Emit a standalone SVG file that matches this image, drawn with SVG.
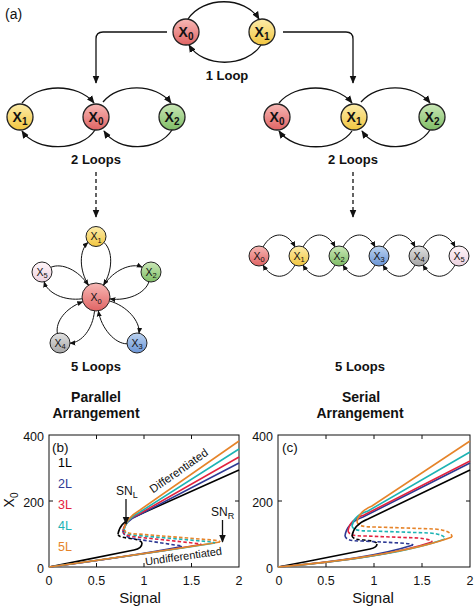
<svg xmlns="http://www.w3.org/2000/svg" width="474" height="608" viewBox="0 0 474 608">
<defs>
  <linearGradient id="gR" x1="0" y1="0" x2="0" y2="1"><stop offset="0" stop-color="#f7b8b5"/><stop offset="1" stop-color="#e06464"/></linearGradient>
  <linearGradient id="gY" x1="0" y1="0" x2="0" y2="1"><stop offset="0" stop-color="#fcecaa"/><stop offset="1" stop-color="#f2c640"/></linearGradient>
  <linearGradient id="gG" x1="0" y1="0" x2="0" y2="1"><stop offset="0" stop-color="#cbe8b8"/><stop offset="1" stop-color="#7fbd66"/></linearGradient>
  <linearGradient id="gB" x1="0" y1="0" x2="0" y2="1"><stop offset="0" stop-color="#bcd3f0"/><stop offset="1" stop-color="#6b95d6"/></linearGradient>
  <linearGradient id="gK" x1="0" y1="0" x2="0" y2="1"><stop offset="0" stop-color="#e2e2e2"/><stop offset="1" stop-color="#a6a6a6"/></linearGradient>
  <linearGradient id="gP" x1="0" y1="0" x2="0" y2="1"><stop offset="0" stop-color="#fff5f9"/><stop offset="1" stop-color="#ecd2df"/></linearGradient>
  <marker id="ah" viewBox="0 0 10 10" refX="9" refY="5" markerWidth="8" markerHeight="8" markerUnits="userSpaceOnUse" orient="auto"><path d="M0,0.8 L10,5 L0,9.2 Z" fill="#111"/></marker>
  <marker id="ahs" viewBox="0 0 10 10" refX="9" refY="5" markerWidth="6" markerHeight="6" markerUnits="userSpaceOnUse" orient="auto"><path d="M0,0.8 L10,5 L0,9.2 Z" fill="#111"/></marker>
</defs>
<style>
  .t{font-family:"Liberation Sans",Arial,sans-serif;fill:#111}
  .nb{font-weight:bold;font-size:14px;text-anchor:middle}
  .ns{font-size:10.5px;text-anchor:middle}
  .cap{font-weight:bold;font-size:13px;text-anchor:middle}
  .arr{font-weight:bold;font-size:14px;text-anchor:middle}
  .tick{font-size:12.5px}
  .ax{font-size:15px;text-anchor:middle}
  .big circle{stroke:#222;stroke-width:1.3}
  .sm circle{stroke:#222;stroke-width:1}
  .c{fill:none;stroke:#111;stroke-width:1.3}
  .cs{fill:none;stroke:#111;stroke-width:1}
  .frame{fill:none;stroke:#111;stroke-width:1}
  .pl{fill:none;stroke-width:1.6}
  .d{stroke-dasharray:3.5 2.2}
  .k{stroke:#000}.b{stroke:#2e3a94}.r{stroke:#e3223e}.cy{stroke:#1cb3b4}.o{stroke:#e6842a}
</style>

<text class="t" x="5" y="19" font-size="14">(a)</text>

<!-- connectors -->
<g id="connectors">
  <path class="c" d="M188,19 C203,-4 245,-4 259,19" marker-end="url(#ah)"/>
  <path class="c" d="M261,45 C246,68 203,68 189,45" marker-end="url(#ah)"/>
  <path class="c" d="M167,32 H103 Q96,32 96,39 V83" marker-end="url(#ah)"/>
  <path class="c" d="M283,32 H346 Q353,32 353,39 V83" marker-end="url(#ah)"/>
  <path class="c" d="M22,103 C38,83 78,83 94,103" marker-end="url(#ah)"/>
  <path class="c" d="M103,102 C118,83 156,83 171,103" marker-end="url(#ah)"/>
  <path class="c" d="M95,130 C81,152 36,152 22,131" marker-end="url(#ah)"/>
  <path class="c" d="M172,130 C158,152 118,152 104,131" marker-end="url(#ah)"/>
  <path class="c" d="M279,103 C295,83 336,83 352,103" marker-end="url(#ah)"/>
  <path class="c" d="M361,102 C377,83 414,83 430,103" marker-end="url(#ah)"/>
  <path class="c" d="M352,131 C338,152 294,152 279,131" marker-end="url(#ah)"/>
  <path class="c" d="M430,130 C416,152 376,152 362,131" marker-end="url(#ah)"/>
  <path class="c" d="M96,172 V217" stroke-dasharray="4 3" marker-end="url(#ah)"/>
  <path class="c" d="M353,172 V217" stroke-dasharray="4 3" marker-end="url(#ah)"/>
  <path class="cs" d="M88.5,285 C79,270 79,250.5 88,242.5" marker-end="url(#ahs)"/>
  <path class="cs" d="M104,242.5 C113,250.5 113,270 103.5,285" marker-end="url(#ahs)"/>
  <path class="cs" d="M103.8,285.2 C113.5,270.3 131.2,262.3 142.2,267.2" marker-end="url(#ahs)"/>
  <path class="cs" d="M148.9,281.8 C145.3,293.3 127.6,301.3 110,298.9" marker-end="url(#ahs)"/>
  <path class="cs" d="M109.6,301 C126.7,305.8 140.4,321.2 139,333.2" marker-end="url(#ahs)"/>
  <path class="cs" d="M127,343.8 C115,343.9 101.3,328.5 98.4,311" marker-end="url(#ahs)"/>
  <path class="cs" d="M94.5,311.1 C92.7,328.8 82,342.5 70,343.2" marker-end="url(#ahs)"/>
  <path class="cs" d="M57.4,333.4 C55.2,321.5 66,307.8 82.7,301.8" marker-end="url(#ahs)"/>
  <path class="cs" d="M82,298.8 C64.4,301.1 47.6,293.3 44.1,281.8" marker-end="url(#ahs)"/>
  <path class="cs" d="M50.8,267.3 C61.9,262.5 78.6,270.2 88.3,285.2" marker-end="url(#ahs)"/>
  <path class="cs" d="M263,247 C272,231 287,231 295,247" marker-end="url(#ahs)"/>
  <path class="cs" d="M295,265 C287,280 272,280 263,265" marker-end="url(#ahs)"/>
  <path class="cs" d="M303,247 C312,231 327,231 335,247" marker-end="url(#ahs)"/>
  <path class="cs" d="M335,265 C327,280 312,280 303,265" marker-end="url(#ahs)"/>
  <path class="cs" d="M343,247 C352,231 367,231 375,247" marker-end="url(#ahs)"/>
  <path class="cs" d="M375,265 C367,280 352,280 343,265" marker-end="url(#ahs)"/>
  <path class="cs" d="M383,247 C392,231 407,231 415,247" marker-end="url(#ahs)"/>
  <path class="cs" d="M415,265 C407,280 392,280 383,265" marker-end="url(#ahs)"/>
  <path class="cs" d="M423,247 C432,231 447,231 455,247" marker-end="url(#ahs)"/>
  <path class="cs" d="M455,265 C447,280 432,280 423,265" marker-end="url(#ahs)"/>
</g>

<g id="top-x0" class="big"><circle cx="186" cy="32" r="13" fill="url(#gR)"/><text class="t nb" x="186" y="37">X<tspan font-size="10" dy="3">0</tspan></text></g>
<g id="top-x1" class="big"><circle cx="262" cy="32" r="13" fill="url(#gY)"/><text class="t nb" x="262" y="37">X<tspan font-size="10" dy="3">1</tspan></text></g>
<text class="t cap" x="227" y="80">1 Loop</text>

<g id="l2-x1" class="big"><circle cx="20" cy="117" r="13" fill="url(#gY)"/><text class="t nb" x="20" y="122">X<tspan font-size="10" dy="3">1</tspan></text></g>
<g id="l2-x0" class="big"><circle cx="96" cy="117" r="13" fill="url(#gR)"/><text class="t nb" x="96" y="122">X<tspan font-size="10" dy="3">0</tspan></text></g>
<g id="l2-x2" class="big"><circle cx="172" cy="117" r="13" fill="url(#gG)"/><text class="t nb" x="172" y="122">X<tspan font-size="10" dy="3">2</tspan></text></g>
<text class="t cap" x="96" y="164">2 Loops</text>

<g id="r2-x0" class="big"><circle cx="277" cy="117" r="13" fill="url(#gR)"/><text class="t nb" x="277" y="122">X<tspan font-size="10" dy="3">0</tspan></text></g>
<g id="r2-x1" class="big"><circle cx="354" cy="117" r="13" fill="url(#gY)"/><text class="t nb" x="354" y="122">X<tspan font-size="10" dy="3">1</tspan></text></g>
<g id="r2-x2" class="big"><circle cx="432" cy="117" r="13" fill="url(#gG)"/><text class="t nb" x="432" y="122">X<tspan font-size="10" dy="3">2</tspan></text></g>
<text class="t cap" x="353" y="164">2 Loops</text>

<g id="p-x0" class="sm"><circle cx="96" cy="297" r="14" fill="url(#gR)"/><text class="t ns" x="96" y="301">X<tspan font-size="7.5" dy="2.5">0</tspan></text></g>
<g id="p-x1" class="sm"><circle cx="96" cy="236.5" r="10" fill="url(#gY)"/><text class="t ns" x="96" y="240">X<tspan font-size="7.5" dy="2.5">1</tspan></text></g>
<g id="p-x2" class="sm"><circle cx="151" cy="272" r="10" fill="url(#gG)"/><text class="t ns" x="151" y="275.5">X<tspan font-size="7.5" dy="2.5">2</tspan></text></g>
<g id="p-x3" class="sm"><circle cx="137" cy="343" r="10" fill="url(#gB)"/><text class="t ns" x="137" y="346.5">X<tspan font-size="7.5" dy="2.5">3</tspan></text></g>
<g id="p-x4" class="sm"><circle cx="60" cy="343" r="10" fill="url(#gK)"/><text class="t ns" x="60" y="346.5">X<tspan font-size="7.5" dy="2.5">4</tspan></text></g>
<g id="p-x5" class="sm"><circle cx="42" cy="272" r="10" fill="url(#gP)"/><text class="t ns" x="42" y="275.5">X<tspan font-size="7.5" dy="2.5">5</tspan></text></g>
<text class="t cap" x="96" y="371">5 Loops</text>
<text class="t arr" x="96" y="402">Parallel</text>
<text class="t arr" x="96" y="418">Arrangement</text>

<g id="s-x0" class="sm"><circle cx="259" cy="256" r="10" fill="url(#gR)"/><text class="t ns" x="259" y="259.5">X<tspan font-size="7.5" dy="2.5">0</tspan></text></g>
<g id="s-x1" class="sm"><circle cx="299" cy="256" r="10" fill="url(#gY)"/><text class="t ns" x="299" y="259.5">X<tspan font-size="7.5" dy="2.5">1</tspan></text></g>
<g id="s-x2" class="sm"><circle cx="339" cy="256" r="10" fill="url(#gG)"/><text class="t ns" x="339" y="259.5">X<tspan font-size="7.5" dy="2.5">2</tspan></text></g>
<g id="s-x3" class="sm"><circle cx="379" cy="256" r="10" fill="url(#gB)"/><text class="t ns" x="379" y="259.5">X<tspan font-size="7.5" dy="2.5">3</tspan></text></g>
<g id="s-x4" class="sm"><circle cx="419" cy="256" r="10" fill="url(#gK)"/><text class="t ns" x="419" y="259.5">X<tspan font-size="7.5" dy="2.5">4</tspan></text></g>
<g id="s-x5" class="sm"><circle cx="459" cy="256" r="10" fill="url(#gP)"/><text class="t ns" x="459" y="259.5">X<tspan font-size="7.5" dy="2.5">5</tspan></text></g>
<text class="t cap" x="360" y="371">5 Loops</text>
<text class="t arr" x="361" y="402">Serial</text>
<text class="t arr" x="360" y="418">Arrangement</text>

<g id="plot-b">
  <rect class="frame" x="49" y="435" width="190" height="132"/>
  <path stroke="#111" stroke-width="1" d="M96.5,435 v4 M144,435 v4 M191.5,435 v4 M96.5,567 v-4 M144,567 v-4 M191.5,567 v-4 M49,501 h4 M239,501 h-4"/>
  <g class="t tick" text-anchor="middle">
    <text x="49" y="585">0</text><text x="96.5" y="585">0.5</text><text x="144" y="585">1</text><text x="191.5" y="585">1.5</text><text x="239" y="585">2</text>
  </g>
  <g class="t tick" text-anchor="end">
    <text x="44" y="441">400</text><text x="44" y="507">200</text><text x="44" y="573">0</text>
  </g>
  <text class="t ax" x="140" y="603">Signal</text>
  <text class="t" font-size="14" text-anchor="middle" transform="translate(14,500) rotate(-90)">X<tspan font-size="10" dy="4">0</tspan></text>
  <path class="pl k" d="M49,567 C80,561 118,553 134,550 C140,549 142,546 142,543"/>
  <path class="pl b" d="M49,567 Q130,556.5 182,546.5"/>
  <path class="pl r" d="M49,567 Q140,555 201,544.5"/>
  <path class="pl cy" d="M49,567 Q148,553.5 215,543"/>
  <path class="pl o" d="M49,567 Q150,553 220,542"/>
  <path class="pl d k" d="M142,543 C141,540 135,539 127,538 C120,537 118,536 118,534"/>
  <path class="pl d b" d="M123,532 C124,536 129,538 136,539 L175,545 C179,545.5 182,546 182,546.5"/>
  <path class="pl d r" d="M123,531 C124,535 129,536.5 137,537 L193,543 C198,543.5 201,544 201,544.5"/>
  <path class="pl d cy" d="M124,530 C125,534 130,535 138,535.5 L207,541.5 C212,542 215,542.5 215,543"/>
  <path class="pl d o" d="M124,529 C125,533 130,534 138,534 L212,540 C217,540.5 220,541 220,542"/>
  <path class="pl k" d="M118,534 C119,527 124,521 134,517 L239,470"/>
  <path class="pl b" d="M123,532 C124,525 129,519 139,515 L239,463"/>
  <path class="pl r" d="M123,531 C124,524 129,518 139,514 L239,457"/>
  <path class="pl cy" d="M124,530 C125,523 130,517 140,512 L239,449"/>
  <path class="pl o" d="M124,529 C125,522 130,516 140,510 L239,441"/>
  <text class="t" x="52" y="452" font-size="13.5">(b)</text>
  <g class="t" font-size="12.5" text-anchor="end">
    <text x="72" y="467" fill="#000">1L</text>
    <text x="72" y="488" fill="#2e3a94">2L</text>
    <text x="72" y="509" fill="#e3223e">3L</text>
    <text x="72" y="530" fill="#1cb3b4">4L</text>
    <text x="72" y="551" fill="#e6842a">5L</text>
  </g>
  <text class="t" x="116" y="495" font-size="12">SN<tspan font-size="9" dy="3">L</tspan></text>
  <path class="c" d="M126,499 V524" marker-end="url(#ah)"/>
  <text class="t" x="211" y="516" font-size="12">SN<tspan font-size="9" dy="3">R</tspan></text>
  <path class="c" d="M222.5,520 V542" marker-end="url(#ah)"/>
  <text class="t" font-size="11.5" text-anchor="middle" transform="translate(181,474) rotate(-35)">Differentiated</text>
  <text class="t" font-size="11" text-anchor="middle" transform="translate(184,560) rotate(-8)">Undifferentiated</text>
</g>

<g id="plot-c">
  <rect class="frame" x="278" y="435" width="192" height="132"/>
  <path stroke="#111" stroke-width="1" d="M326,435 v4 M374,435 v4 M422,435 v4 M326,567 v-4 M374,567 v-4 M422,567 v-4 M278,501 h4 M470,501 h-4"/>
  <g class="t tick" text-anchor="middle">
    <text x="279" y="585">0</text><text x="326" y="585">0.5</text><text x="374" y="585">1</text><text x="422" y="585">1.5</text><text x="470" y="585">2</text>
  </g>
  <g class="t tick" text-anchor="end">
    <text x="273" y="441">400</text><text x="273" y="507">200</text><text x="273" y="573">0</text>
  </g>
  <text class="t ax" x="373" y="603">Signal</text>
  <path class="pl k" d="M278,567 C310,561 350,553 370,549 C375,548 377,546 377,544"/>
  <path class="pl b" d="M278,567 Q370,559 413,545"/>
  <path class="pl r" d="M278,567 Q385,558 432,542"/>
  <path class="pl cy" d="M278,567 Q395,557 445,539"/>
  <path class="pl o" d="M278,567 Q400,556 452,537"/>
  <path class="pl d k" d="M352,536 C353,539 358,540 364,540 L372,541 C376,542 377,543 377,544"/>
  <path class="pl d b" d="M345,536 C346,540 352,541 362,541 L400,543 C408,543.5 413,544 413,545"/>
  <path class="pl d r" d="M348,531 C349,535 355,536 365,536 L418,538 C427,539 432,540 432,542"/>
  <path class="pl d cy" d="M352,526 C353,530 359,531 370,531 L430,533 C440,534 445,536 445,539"/>
  <path class="pl d o" d="M357,522 C358,526 364,527 375,527 L435,529 C446,530 452,533 452,537"/>
  <path class="pl k" d="M352,536 C353,529 358,523 368,519 L470,470"/>
  <path class="pl b" d="M345,536 C346,528 352,521 363,517 L470,463"/>
  <path class="pl r" d="M348,531 C349,524 354,518 364,515 L470,461"/>
  <path class="pl cy" d="M352,526 C353,519 358,514 368,511 L470,452"/>
  <path class="pl o" d="M357,522 C358,515 362,510 372,506 L470,441"/>
  <text class="t" x="282" y="452" font-size="13.5">(c)</text>
</g>
</svg>
